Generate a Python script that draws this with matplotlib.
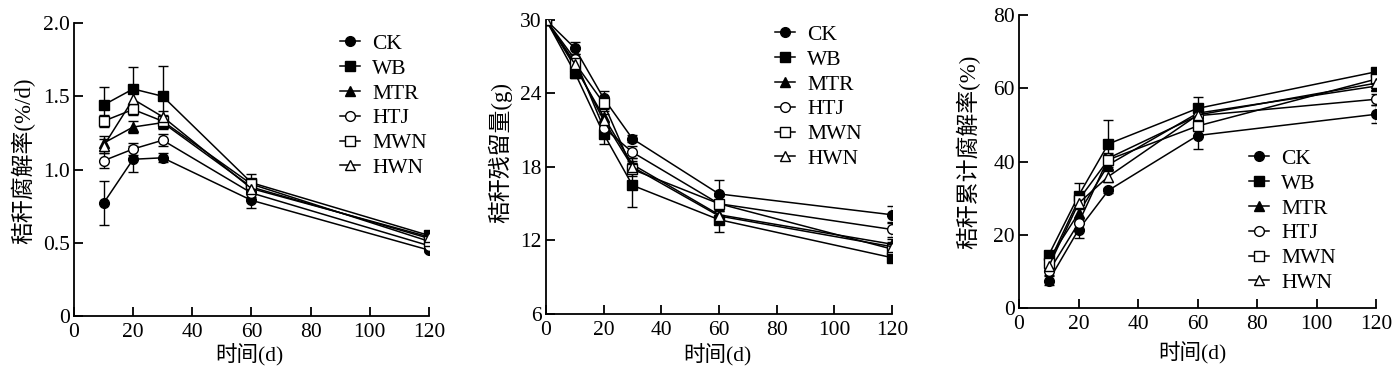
import matplotlib
matplotlib.use("Agg")
import matplotlib.pyplot as plt
from matplotlib.container import ErrorbarContainer

plt.rcParams['font.family'] = ['Liberation Serif', 'Noto Sans CJK SC']
plt.rcParams['axes.unicode_minus'] = False

series = ["CK", "WB", "MTR", "HTJ", "MWN", "HWN"]
markers = {"CK": ("o", "k"), "WB": ("s", "k"), "MTR": ("^", "k"),
           "HTJ": ("o", "w"), "MWN": ("s", "w"), "HWN": ("^", "w")}

# Panel 1: decomposition rate (%/d)
days1 = [10, 20, 30, 60, 120]
rate = {
    "CK":  [0.77, 1.07, 1.08, 0.79, 0.45],
    "WB":  [1.44, 1.55, 1.50, 0.91, 0.55],
    "MTR": [1.18, 1.29, 1.32, 0.88, 0.53],
    "HTJ": [1.06, 1.14, 1.20, 0.84, 0.48],
    "MWN": [1.33, 1.41, 1.33, 0.90, 0.51],
    "HWN": [1.16, 1.48, 1.36, 0.87, 0.54],
}
rate_err = {
    "CK":  [0.15, 0.09, 0.03, 0.05, 0.01],
    "WB":  [0.12, 0.15, 0.21, 0.06, 0.02],
    "MTR": [0.05, 0.04, 0.04, 0.03, 0.02],
    "HTJ": [0.05, 0.04, 0.04, 0.03, 0.02],
    "MWN": [0.04, 0.04, 0.04, 0.03, 0.02],
    "HWN": [0.05, 0.04, 0.04, 0.03, 0.02],
}

# Panel 2: straw residue (g)
days2 = [0, 10, 20, 30, 60, 120]
residue = {
    "CK":  [30, 27.7, 23.6, 20.3, 15.8, 14.1],
    "WB":  [30, 25.7, 20.7, 16.5, 13.7, 10.6],
    "MTR": [30, 26.2, 22.1, 18.2, 14.1, 11.7],
    "HTJ": [30, 26.8, 21.2, 19.2, 15.0, 12.9],
    "MWN": [30, 26.5, 23.2, 17.8, 15.0, 11.3],
    "HWN": [30, 26.4, 21.8, 18.0, 14.0, 11.5],
}
residue_err = {
    "CK":  [0, 0.5, 0.6, 0.3, 1.1, 0.7],
    "WB":  [0, 0.4, 0.8, 1.8, 1.0, 0.3],
    "MTR": [0, 0.4, 0.5, 0.5, 0.5, 0.4],
    "HTJ": [0, 0.4, 0.5, 0.5, 0.6, 0.6],
    "MWN": [0, 0.4, 0.5, 0.5, 0.6, 0.4],
    "HWN": [0, 0.4, 0.5, 0.5, 0.5, 0.4],
}

# Panel 3: cumulative decomposition rate (%)
days3 = [10, 20, 30, 60, 120]
cumul = {
    "CK":  [7.5, 21.4, 32.1, 47.1, 52.9],
    "WB":  [14.5, 30.7, 44.8, 54.5, 64.5],
    "MTR": [13.2, 25.9, 39.1, 53.2, 60.6],
    "HTJ": [10.0, 23.2, 40.9, 52.5, 57.0],
    "MWN": [12.3, 29.5, 40.5, 49.7, 62.5],
    "HWN": [11.4, 28.6, 35.9, 52.7, 61.4],
}
cumul_err = {
    "CK":  [1.3, 2.3, 0.8, 3.7, 2.4],
    "WB":  [1.0, 3.4, 6.4, 3.2, 0.8],
    "MTR": [1.0, 1.5, 1.5, 1.5, 1.2],
    "HTJ": [1.0, 1.5, 1.5, 1.5, 1.5],
    "MWN": [1.0, 1.5, 1.5, 1.5, 1.2],
    "HWN": [1.0, 1.5, 1.5, 1.5, 1.2],
}

fig = plt.figure(figsize=(13.95, 3.69), dpi=100)
ax1 = fig.add_axes([0.053, 0.1436, 0.2545, 0.794])
ax2 = fig.add_axes([0.3914, 0.149, 0.248, 0.797])
ax3 = fig.add_axes([0.7305, 0.1653, 0.256, 0.794])

FS = 15.5

def draw(ax, x, data, err, ylim, yticks, yticklabels, ylabel, legend_loc,
         xlab_xy, ylab_xy):
    for s in series:
        m, fc = markers[s]
        ax.errorbar(x, data[s], yerr=err[s], color='k', lw=1.1, marker=m,
                    markerfacecolor=fc, markeredgecolor='k', markersize=7,
                    markeredgewidth=1.0, capsize=3.5, elinewidth=1.0, label=s)
    ax.set_xlim(0, 120)
    ax.set_ylim(*ylim)
    ax.set_xticks([0, 20, 40, 60, 80, 100, 120])
    ax.set_yticks(yticks)
    ax.set_yticklabels(yticklabels)
    ax.spines['top'].set_visible(False)
    ax.spines['right'].set_visible(False)
    for sp in ('left', 'bottom'):
        ax.spines[sp].set_linewidth(1.3)
    ax.tick_params(direction='in', length=6.5, width=1.3, labelsize=FS)
    ax.tick_params(axis='y', pad=3)
    ax.tick_params(axis='x', pad=5)
    ax.set_xlabel('时间(d)', fontsize=15.5)
    ax.set_ylabel(ylabel, fontsize=16.5)
    ax.xaxis.set_label_coords(*xlab_xy)
    ax.yaxis.set_label_coords(*ylab_xy)
    handles, labels = ax.get_legend_handles_labels()
    hs = [h[0] if isinstance(h, ErrorbarContainer) else h for h in handles]
    ax.legend(hs, labels, bbox_to_anchor=legend_loc, loc='upper left',
              frameon=False, fontsize=FS, handlelength=0.95,
              handletextpad=0.55, labelspacing=0.22, borderaxespad=0,
              borderpad=0)

draw(ax1, days1, rate, rate_err, (0, 2.0), [0, 0.5, 1.0, 1.5, 2.0],
     ['0', '0.5', '1.0', '1.5', '2.0'], '秸秆腐解率(%/d)', (0.749, 0.963),
     (0.493, -0.094), (-0.11, 0.529))
draw(ax2, days2, residue, residue_err, (6, 30), [6, 12, 18, 24, 30],
     ['6', '12', '18', '24', '30'], '秸秆残留量(g)', (0.662, 0.983),
     (0.494, -0.101), (-0.098, 0.548))
draw(ax3, days3, cumul, cumul_err, (0, 80), [0, 20, 40, 60, 80],
     ['0', '20', '40', '60', '80'], '秸秆累计腐解率(%)', (0.644, 0.543),
     (0.485, -0.115), (-0.109, 0.532))

fig.savefig('out.png', dpi=100)
